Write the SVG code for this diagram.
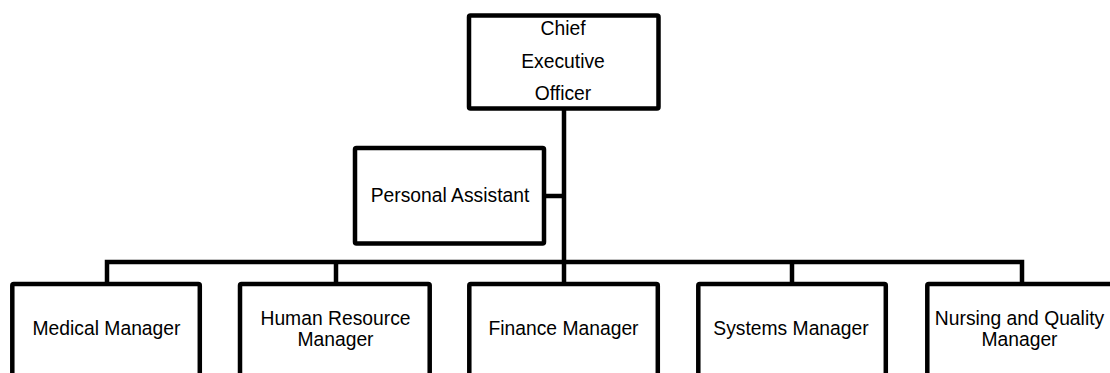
<svg xmlns="http://www.w3.org/2000/svg" width="1110" height="373" viewBox="0 0 1110 373">
<style>
.box{fill:#fff;stroke:#000;stroke-width:4.5}
.conn{fill:none;stroke:#000;stroke-width:4.5;stroke-linejoin:miter}
text{font-family:"Liberation Sans",Arial,sans-serif;font-size:19.3px;fill:#000;text-anchor:middle}
</style>
<rect width="1110" height="373" fill="#fff"/>
<g id="connectors">
<path class="conn" d="M564,110 V262"/>
<path class="conn" d="M546,196 H564"/>
<path class="conn" d="M107,283 V262 H1022 V283"/>
<path class="conn" d="M336,262 V283"/>
<path class="conn" d="M564,262 V283"/>
<path class="conn" d="M792,262 V283"/>
</g>
<g id="ceo">
<rect class="box" x="469" y="15.5" width="189.5" height="93" rx="1.5"/>
<text x="563" y="35">Chief</text>
<text x="563" y="67.5">Executive</text>
<text x="563" y="100">Officer</text>
</g>
<g id="pa">
<rect class="box" x="355" y="148" width="189" height="95.5" rx="1.5"/>
<text x="450" y="202">Personal Assistant</text>
</g>
<g id="medical">
<rect class="box" x="12.3" y="284" width="187.5" height="120" rx="1.5"/>
<text x="106.5" y="335">Medical Manager</text>
</g>
<g id="hr">
<rect class="box" x="240" y="284" width="189.7" height="120" rx="1.5"/>
<text x="335.5" y="325">Human Resource</text>
<text x="335.5" y="346">Manager</text>
</g>
<g id="finance">
<rect class="box" x="469.3" y="284" width="188.5" height="120" rx="1.5"/>
<text x="563.5" y="335">Finance Manager</text>
</g>
<g id="systems">
<rect class="box" x="698.3" y="284" width="187.5" height="120" rx="1.5"/>
<text x="791" y="335">Systems Manager</text>
</g>
<g id="nursing">
<rect class="box" x="927.3" y="284" width="190" height="120" rx="1.5"/>
<text x="1019.5" y="325">Nursing and Quality</text>
<text x="1019.5" y="346">Manager</text>
</g>
</svg>
